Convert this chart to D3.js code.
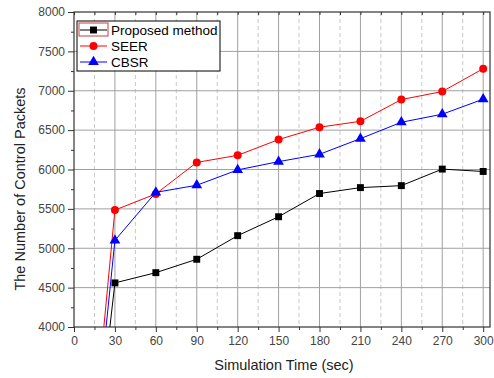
<!DOCTYPE html>
<html>
<head>
<meta charset="utf-8">
<script src="https://cdn.jsdelivr.net/npm/d3@7"></script>
<style>
  body { margin: 0; background: #fff; }
  text { font-family: "Liberation Sans", Arial, sans-serif; }
</style>
</head>
<body>
<script>
// chart data
var times = [0, 30, 60, 90, 120, 150, 180, 210, 240, 270, 300];
var proposed = [0, 4560, 4690, 4860, 5160, 5400, 5695, 5770, 5795, 6005, 5975];
var seer = [0, 5485, 5690, 6090, 6180, 6380, 6537, 6612, 6888, 6990, 7280];
var cbsr = [0, 5100, 5710, 5800, 5995, 6100, 6193, 6392, 6600, 6702, 6893];
var xTicks = [0, 30, 60, 90, 120, 150, 180, 210, 240, 270, 300];
var yTicks = [4000, 4500, 5000, 5500, 6000, 6500, 7000, 7500, 8000];

var width = 494, height = 378;
var margin = {left: 74, right: 4, top: 12, bottom: 51};

var svg = d3.select("body").append("svg")
    .attr("width", width)
    .attr("height", height);

var x = d3.scaleLinear().domain([0, 305]).range([margin.left, width - margin.right]);
var y = d3.scaleLinear().domain([4000, 8000]).range([height - margin.bottom, margin.top]);

var x0 = x.range()[0], x1 = x.range()[1], y0 = y.range()[0], y1 = y.range()[1];

// minor dashed verticals
var minorX = d3.range(15, 305, 30);
svg.selectAll(".vminor").data(minorX).enter().append("line")
    .attr("x1", d => x(d)).attr("x2", d => x(d))
    .attr("y1", y1).attr("y2", y0)
    .attr("stroke", "#c8c8c8").attr("stroke-dasharray", "4,3");

// major grid
svg.selectAll(".vgrid").data(xTicks.slice(1)).enter().append("line")
    .attr("x1", d => x(d)).attr("x2", d => x(d))
    .attr("y1", y1).attr("y2", y0)
    .attr("stroke", "#a0a0a0");
svg.selectAll(".hgrid").data(yTicks.slice(1, -1)).enter().append("line")
    .attr("x1", x0).attr("x2", x1)
    .attr("y1", d => y(d)).attr("y2", d => y(d))
    .attr("stroke", "#a0a0a0");

// frame
svg.append("rect")
    .attr("x", x0).attr("y", y1)
    .attr("width", x1 - x0).attr("height", y0 - y1)
    .attr("fill", "none").attr("stroke", "#333").attr("stroke-width", 1.2);

// axes
svg.append("g")
    .attr("transform", "translate(0," + y0 + ")")
    .call(d3.axisBottom(x).tickValues(xTicks).tickSize(5).tickPadding(4));
svg.append("g")
    .attr("transform", "translate(0," + y0 + ")")
    .call(d3.axisBottom(x).tickValues(minorX).tickSize(3).tickFormat(""));
svg.append("g")
    .attr("transform", "translate(0," + y1 + ")")
    .call(d3.axisBottom(x).tickValues(xTicks.concat(minorX)).tickSize(3).tickFormat(""));

svg.append("g")
    .attr("transform", "translate(" + x0 + ",0)")
    .call(d3.axisLeft(y).tickValues(yTicks).tickSize(6).tickPadding(3).tickFormat(d3.format("d")));
svg.append("g")
    .attr("transform", "translate(" + x0 + ",0)")
    .call(d3.axisLeft(y).tickValues(d3.range(4250, 8000, 500)).tickSize(3).tickFormat(""));

svg.selectAll(".domain").remove();
svg.selectAll(".tick line").attr("stroke", "#333");
svg.selectAll(".tick text").attr("fill", "#444").style("font-size", "12px");

// clip for lines
svg.append("clipPath").attr("id", "clip")
  .append("rect").attr("x", x0).attr("y", y1).attr("width", x1 - x0).attr("height", y0 - y1);

var series = [
  {name: "Proposed method", values: proposed, color: "#000", shape: d3.symbolSquare, size: 48},
  {name: "SEER", values: seer, color: "#ff0000", shape: d3.symbolCircle, size: 50},
  {name: "CBSR", values: cbsr, color: "#0000ff", shape: d3.symbolTriangle, size: 50}
];

var line = d3.line().x((d, i) => x(times[i])).y(d => y(d));

var plot = svg.append("g").attr("clip-path", "url(#clip)");
series.forEach(function(s) {
  plot.append("path")
      .datum(s.values)
      .attr("d", line)
      .attr("fill", "none")
      .attr("stroke", s.color)
      .attr("stroke-width", 1);
  plot.selectAll(null).data(s.values.slice(1)).enter().append("path")
      .attr("transform", (d, i) => "translate(" + x(times[i + 1]) + "," + y(d) + ")")
      .attr("d", d3.symbol().type(s.shape).size(s.size))
      .attr("fill", s.color);
});

// legend
var lg = svg.append("g").attr("transform", "translate(77,21)");
lg.append("rect").attr("width", 143).attr("height", 50)
    .attr("fill", "#fff").attr("stroke", "#000").attr("stroke-width", 1);
lg.append("rect").attr("x", 2).attr("y", 2).attr("width", 29).attr("height", 13)
    .attr("fill", "none").attr("stroke", "#c04040").attr("stroke-width", 1);
series.forEach(function(s, i) {
  var yy = 9 + i * 16;
  lg.append("line").attr("x1", 3).attr("x2", 30).attr("y1", yy).attr("y2", yy)
      .attr("stroke", s.color);
  lg.append("path").attr("transform", "translate(16.5," + yy + ")")
      .attr("d", d3.symbol().type(s.shape).size(s.size))
      .attr("fill", s.color);
  lg.append("text").attr("x", 34).attr("y", yy + 5)
      .style("font-size", "13.5px").attr("fill", "#000")
      .text(s.name);
});

// axis titles
svg.append("text")
    .attr("x", 284).attr("y", 370)
    .attr("text-anchor", "middle")
    .style("font-size", "14.5px").attr("fill", "#222")
    .text("Simulation Time (sec)");
svg.append("text")
    .attr("transform", "translate(25,189) rotate(-90)")
    .attr("text-anchor", "middle")
    .style("font-size", "14.5px").attr("fill", "#222")
    .text("The Number of Control Packets");
</script>
</body>
</html>
